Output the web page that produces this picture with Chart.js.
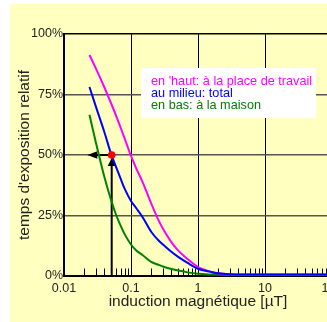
<!DOCTYPE html>
<html>
<head>
<meta charset="utf-8">
<script src="https://cdn.jsdelivr.net/npm/chart.js@4.4.1/dist/chart.umd.min.js"></script>
<style>
html, body { margin: 0; padding: 0; background: #fff; overflow: hidden; }
#fond { position: absolute; left: 10px; top: 4px; width: 317px; height: 318px; background: #ffffc0; }
#graphique { position: absolute; left: 0; top: 0; }
</style>
</head>
<body>
<div id="fond"></div>
<canvas id="graphique" width="345" height="322"></canvas>
<script>
// induction magnetique (µT) et temps d'exposition relatif (%)
var induction = [0.024, 0.03, 0.04, 0.05, 0.06, 0.07, 0.08, 0.1, 0.12, 0.15, 0.2, 0.25, 0.3, 0.4, 0.5, 0.7, 1, 1.5, 2, 3, 5, 10, 20, 50, 100];
var travail = [91.3, 85.7, 78, 71.6, 66.2, 61.3, 57, 49.6, 44.4, 38.6, 30, 23.8, 19.5, 14, 10.7, 7, 3.7, 1.9, 1.1, 0.7, 0.6, 0.6, 0.6, 0.6, 0.6];
var total = [78.1, 69.9, 59.5, 50.8, 45, 40.2, 36.2, 31, 28, 24.2, 18.3, 15.1, 13, 10, 8, 5.4, 3, 1.8, 1.1, 0.7, 0.6, 0.6, 0.6, 0.6, 0.6];
var maison = [66.6, 55, 41, 31.7, 25.2, 20.8, 17.4, 13, 10.5, 8.6, 5.8, 4.75, 3.9, 2.9, 2.3, 1.5, 0.9, 0.6, 0.5, 0.4, 0.4, 0.4, 0.4, 0.4, 0.4];

var series = ["en 'haut: à la place de travail", "au milieu: total", "en bas: à la maison"];
var couleurs = ['#ff00ff', '#0000ff', '#008000'];

var pointX = [0.0515];
var pointY = [50];
var flecheX = [0.0223];

var ticksX = [0.01, 0.1, 1, 10, 100];
var graduations = [0.02, 0.03, 0.04, 0.05, 0.06, 0.07, 0.08, 0.09,
    0.2, 0.3, 0.4, 0.5, 0.6, 0.7, 0.8, 0.9,
    2, 3, 4, 5, 6, 7, 8, 9,
    20, 30, 40, 50, 60, 70, 80, 90];

var titreX = 'induction magnétique [µT]';
var titreY = "temps d'exposition relatif";

Chart.defaults.font.family = "'Liberation Sans', Arial, sans-serif";

function points(ys) {
    return induction.map(function (v, i) { return { x: v, y: ys[i] }; });
}

const decor = {
    id: 'decor',
    beforeDatasetsDraw(chart) {
        const ctx = chart.ctx, x = chart.scales.x, y = chart.scales.y;
        ctx.save();
        ctx.strokeStyle = '#000';
        ctx.lineWidth = 1;
        graduations.forEach(function (v) {
            var px = Math.round(x.getPixelForValue(v)) + 0.5;
            ctx.beginPath();
            ctx.moveTo(px, y.bottom);
            ctx.lineTo(px, y.bottom - 7.5);
            ctx.stroke();
        });
        // fleches
        var mx = x.getPixelForValue(pointX[0]);
        var my = y.getPixelForValue(pointY[0]);
        var fx = x.getPixelForValue(flecheX[0]);
        ctx.lineWidth = 2;
        ctx.beginPath();
        ctx.moveTo(mx, y.bottom);
        ctx.lineTo(mx, my + 10);
        ctx.stroke();
        ctx.beginPath();
        ctx.moveTo(mx, my);
        ctx.lineTo(fx + 9, my);
        ctx.stroke();
        ctx.fillStyle = '#000';
        ctx.beginPath();
        ctx.moveTo(mx, my + 3);
        ctx.lineTo(mx - 4, my + 11);
        ctx.lineTo(mx + 4, my + 11);
        ctx.closePath();
        ctx.fill();
        ctx.beginPath();
        ctx.moveTo(fx, my);
        ctx.lineTo(fx + 10, my - 3.7);
        ctx.lineTo(fx + 10, my + 3.7);
        ctx.closePath();
        ctx.fill();
        ctx.restore();
    },
    afterDraw(chart) {
        const ctx = chart.ctx, a = chart.chartArea;
        var bx = a.left + 77, by = a.top + 34;
        ctx.save();
        ctx.fillStyle = '#fff';
        ctx.fillRect(bx, by, 175, 50);
        ctx.font = "12.7px 'Liberation Sans', Arial, sans-serif";
        ctx.textBaseline = 'alphabetic';
        series.forEach(function (s, i) {
            ctx.fillStyle = couleurs[i];
            ctx.fillText(s, bx + 10, by + 16.5 + i * 12);
        });
        ctx.restore();
    }
};

new Chart('graphique', {
    type: 'line',
    data: {
        datasets: [
            { data: pointX.map(function (v, i) { return { x: v, y: pointY[i] }; }), showLine: false,
              pointRadius: 3.8, backgroundColor: '#ff0000', borderColor: '#ff0000', borderWidth: 0 },
            { data: points(total), borderColor: couleurs[1] },
            { data: points(travail), borderColor: couleurs[0] },
            { data: points(maison), borderColor: couleurs[2] }
        ]
    },
    options: {
        responsive: false,
        animation: false,
        layout: { padding: { top: 34, right: 13, left: 0, bottom: 0 } },
        plugins: { legend: { display: false }, tooltip: { enabled: false } },
        elements: {
            point: { radius: 0 },
            line: { borderWidth: 2, cubicInterpolationMode: 'monotone', fill: false }
        },
        scales: {
            x: {
                type: 'logarithmic',
                min: 0.01,
                max: 100,
                afterFit: function (s) { s.height = 46; s.paddingLeft = 0; s.paddingRight = 0; },
                afterBuildTicks: function (s) { s.ticks = ticksX.map(function (v) { return { value: v }; }); },
                ticks: {
                    callback: function (v) { return String(v); },
                    color: '#222', font: { size: 12.5 }, padding: 5, maxRotation: 0, autoSkip: false
                },
                grid: { color: '#000', lineWidth: 1, drawTicks: false },
                border: { color: '#000', width: 2 },
                title: { display: true, text: titreX, color: '#222', font: { size: 15.5 }, padding: { top: 0, bottom: 10.7 } }
            },
            y: {
                min: 0,
                max: 100,
                afterFit: function (s) { s.width = 64; s.paddingTop = 0; s.paddingBottom = 0; },
                ticks: {
                    stepSize: 25,
                    callback: function (v) { return v + '%'; },
                    color: '#222', font: { size: 12.5 }, padding: 1
                },
                grid: {
                    color: function (c) { return c.tick && c.tick.value === 100 ? '#000' : '#555'; },
                    lineWidth: 1.5, drawTicks: false
                },
                border: { color: '#000', width: 2 },
                title: { display: true, text: titreY, color: '#222', font: { size: 15.5 }, padding: { top: 15.7, bottom: 0 } }
            }
        }
    },
    plugins: [decor]
});
</script>
</body>
</html>
